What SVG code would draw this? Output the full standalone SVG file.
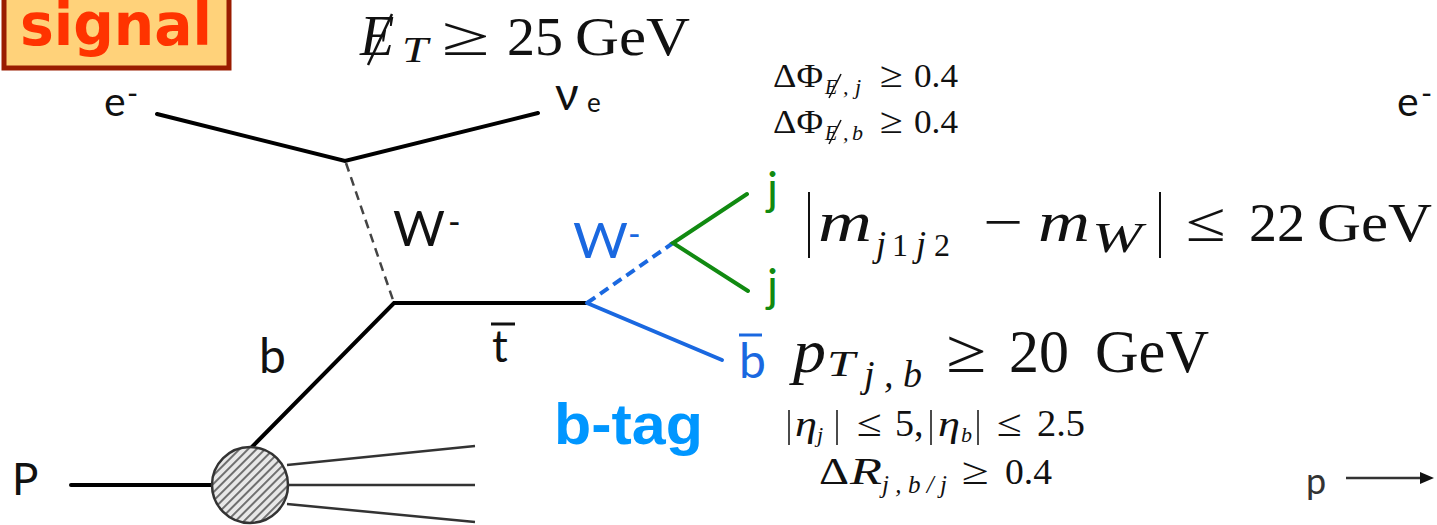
<svg xmlns="http://www.w3.org/2000/svg" width="1437" height="525" viewBox="0 0 1437 525">
<style>
.m{font-family:"Liberation Serif","Times New Roman",serif;fill:#111}
.i{font-style:italic}
.l{font-family:Lato,"Open Sans",sans-serif;fill:#111}
.k{fill:none;stroke:#000;stroke-width:4;stroke-linecap:round}
.g{fill:none;stroke:#333;stroke-width:2.5}
</style>
<defs>
<pattern id="hatch" width="6" height="6" patternUnits="userSpaceOnUse" patternTransform="rotate(45)">
<rect width="6" height="6" fill="#e8e8e8"/><rect width="2" height="6" fill="#707070"/>
</pattern>
<marker id="ah" markerWidth="14" markerHeight="12" refX="2" refY="6" orient="auto" markerUnits="userSpaceOnUse"><path d="M0 0L14 6L0 12Z" fill="#111"/></marker>
</defs>
<rect width="1437" height="525" fill="#fff"/>
<g id="connectors">
<path class="k" d="M157 114L345 161L538 113"/>
<path d="M346 163L394 303" fill="none" stroke="#444" stroke-width="2.5" stroke-dasharray="9 6"/>
<path class="k" d="M252 447L394 303H587"/>
<path class="k" d="M71 485H213"/>
<path class="g" d="M287 465L475 446M288 485H475M287 504L475 522"/>
<path d="M587 303L673 243" fill="none" stroke="#1a68e0" stroke-width="4" stroke-dasharray="10 6"/>
<path d="M587 303L722 360" fill="none" stroke="#1a68e0" stroke-width="4" stroke-linecap="round"/>
<path d="M747 194L673 243L748 291" fill="none" stroke="#118a11" stroke-width="4" stroke-linecap="round"/>
<path d="M1346 478H1422" fill="none" stroke="#333" stroke-width="2.5" marker-end="url(#ah)"/>
</g>
<g id="signal">
<rect x="4" y="-6" width="225" height="74" fill="#ffd27a" stroke="#9a1c00" stroke-width="5"/>
<text x="20" y="45" font-family="'DejaVu Sans',sans-serif" font-weight="700" font-size="58" fill="#ff3300" textLength="192" lengthAdjust="spacingAndGlyphs">signal</text>
</g>
<g id="proton-vertex">
<circle cx="250" cy="485" r="38" fill="url(#hatch)" stroke="#333" stroke-width="2.5"/>
<text class="l" x="12" y="495" font-size="44">P</text>
</g>
<g id="particle-labels">
<text class="l" x="104" y="116" font-size="41">e</text>
<text class="l" x="127" y="104" font-size="30">-</text>
<text class="l" x="555" y="110" font-size="46">ν</text>
<text class="l" x="587" y="112" font-size="26">e</text>
<text class="l" x="393" y="246" font-size="48" textLength="52" lengthAdjust="spacingAndGlyphs">W</text>
<text class="l" x="448" y="234" font-size="34">-</text>
<text class="l" x="259" y="373" font-size="48">b</text>
<text class="l" x="492" y="362" font-size="44">t</text>
<path d="M491 324H515" stroke="#111" stroke-width="3"/>
<text class="l" x="573" y="258" font-size="48" textLength="55" lengthAdjust="spacingAndGlyphs" style="fill:#1a68e0">W</text>
<text class="l" x="628" y="246" font-size="34" style="fill:#1a68e0">-</text>
<text class="l" x="767" y="205" font-size="46" style="fill:#118a11">j</text>
<text class="l" x="767" y="302" font-size="46" style="fill:#118a11">j</text>
<text class="l" x="739" y="378" font-size="48" style="fill:#1a68e0">b</text>
<path d="M739 335H762" stroke="#1a68e0" stroke-width="3"/>
<text x="554" y="444" font-family="'Liberation Sans',Arial,sans-serif" font-weight="700" font-size="58" fill="#0096ff" textLength="149" lengthAdjust="spacingAndGlyphs">b-tag</text>
<text class="l" x="1397" y="116" font-size="41">e</text>
<text class="l" x="1421" y="104" font-size="30">-</text>
<text class="l" x="1306" y="494" font-size="36" style="fill:#333">p</text>
</g>
<g id="cut-met">
<text class="m i" x="360" y="55" font-size="56">E</text>
<path d="M392 14L368 65" stroke="#111" stroke-width="2.5"/>
<text class="m i" x="402" y="62" font-size="36" textLength="26" lengthAdjust="spacingAndGlyphs">T</text>
<text class="m" x="442" y="55" font-size="56" textLength="48" lengthAdjust="spacingAndGlyphs">≥</text>
<text class="m" x="507" y="55" font-size="54" textLength="56" lengthAdjust="spacingAndGlyphs">25</text>
<text class="m" x="575" y="55" font-size="54" textLength="115" lengthAdjust="spacingAndGlyphs">GeV</text>
</g>
<g id="cut-dphi">
<text class="m" x="773" y="87" font-size="33" textLength="50" lengthAdjust="spacingAndGlyphs">ΔΦ</text>
<text class="m i" x="825" y="94" font-size="20">E</text><path d="M841 74L829 98" stroke="#111" stroke-width="1.5"/>
<text class="m i" x="843" y="94" font-size="22" textLength="18" lengthAdjust="spacing">,j</text>
<text class="m" x="880" y="87" font-size="36" textLength="23" lengthAdjust="spacingAndGlyphs">≥</text>
<text class="m" x="914" y="87" font-size="33" textLength="44" lengthAdjust="spacingAndGlyphs">0.4</text>
<text class="m" x="773" y="133" font-size="33" textLength="50" lengthAdjust="spacingAndGlyphs">ΔΦ</text>
<text class="m i" x="825" y="140" font-size="20">E</text><path d="M841 120L829 144" stroke="#111" stroke-width="1.5"/>
<text class="m i" x="843" y="140" font-size="22" textLength="20" lengthAdjust="spacing">,b</text>
<text class="m" x="880" y="133" font-size="36" textLength="23" lengthAdjust="spacingAndGlyphs">≥</text>
<text class="m" x="914" y="133" font-size="33" textLength="44" lengthAdjust="spacingAndGlyphs">0.4</text>
</g>
<g id="cut-mass">
<path d="M809 192V258M1160 192V258" stroke="#111" stroke-width="2"/>
<text class="m i" x="818" y="241" font-size="56" textLength="54" lengthAdjust="spacingAndGlyphs">m</text>
<text class="m i" x="876" y="256" font-size="36">j</text><text class="m" x="892" y="256" font-size="32">1</text>
<text class="m i" x="916" y="256" font-size="36">j</text><text class="m" x="934" y="256" font-size="32">2</text>
<text class="m" x="983" y="241" font-size="56" textLength="40" lengthAdjust="spacingAndGlyphs">−</text>
<text class="m i" x="1038" y="241" font-size="56" textLength="52" lengthAdjust="spacingAndGlyphs">m</text>
<text class="m i" x="1092" y="252" font-size="42" textLength="50" lengthAdjust="spacingAndGlyphs">W</text>
<text class="m" x="1186" y="241" font-size="56" textLength="40" lengthAdjust="spacingAndGlyphs">≤</text>
<text class="m" x="1249" y="241" font-size="54" textLength="56" lengthAdjust="spacingAndGlyphs">22</text>
<text class="m" x="1317" y="241" font-size="54" textLength="115" lengthAdjust="spacingAndGlyphs">GeV</text>
</g>
<g id="cut-pt">
<text class="m i" x="793" y="372" font-size="62" textLength="33" lengthAdjust="spacingAndGlyphs">p</text>
<text class="m i" x="827" y="376" font-size="36" textLength="28" lengthAdjust="spacingAndGlyphs">T</text>
<text class="m i" x="864" y="387" font-size="38" textLength="58" lengthAdjust="spacing">j,b</text>
<text class="m" x="946" y="372" font-size="62" textLength="40" lengthAdjust="spacingAndGlyphs">≥</text>
<text class="m" x="1009" y="372" font-size="62" textLength="60" lengthAdjust="spacingAndGlyphs">20</text>
<text class="m" x="1095" y="372" font-size="62" textLength="114" lengthAdjust="spacingAndGlyphs">GeV</text>
</g>
<g id="cut-eta">
<path d="M789 410V445M837 410V445M931 410V445M978 410V445" stroke="#111" stroke-width="1.5"/>
<text class="m i" x="795" y="436" font-size="36" textLength="22" lengthAdjust="spacingAndGlyphs">η</text>
<text class="m i" x="817" y="442" font-size="22">j</text>
<text class="m" x="857" y="436" font-size="38" textLength="25" lengthAdjust="spacingAndGlyphs">≤</text>
<text class="m" x="895" y="436" font-size="38">5,</text>
<text class="m i" x="938" y="436" font-size="36" textLength="22" lengthAdjust="spacingAndGlyphs">η</text>
<text class="m i" x="961" y="442" font-size="22">b</text>
<text class="m" x="997" y="436" font-size="38" textLength="25" lengthAdjust="spacingAndGlyphs">≤</text>
<text class="m" x="1037" y="436" font-size="38" textLength="48" lengthAdjust="spacingAndGlyphs">2.5</text>
</g>
<g id="cut-dr">
<text class="m" x="819" y="484" font-size="38" textLength="30" lengthAdjust="spacingAndGlyphs">Δ</text>
<text class="m i" x="850" y="484" font-size="38" textLength="32" lengthAdjust="spacingAndGlyphs">R</text>
<text class="m i" x="882" y="493" font-size="25" textLength="65" lengthAdjust="spacing">j,b/j</text>
<text class="m" x="962" y="484" font-size="38" textLength="27" lengthAdjust="spacingAndGlyphs">≥</text>
<text class="m" x="1005" y="484" font-size="36" textLength="47" lengthAdjust="spacingAndGlyphs">0.4</text>
</g>
</svg>
